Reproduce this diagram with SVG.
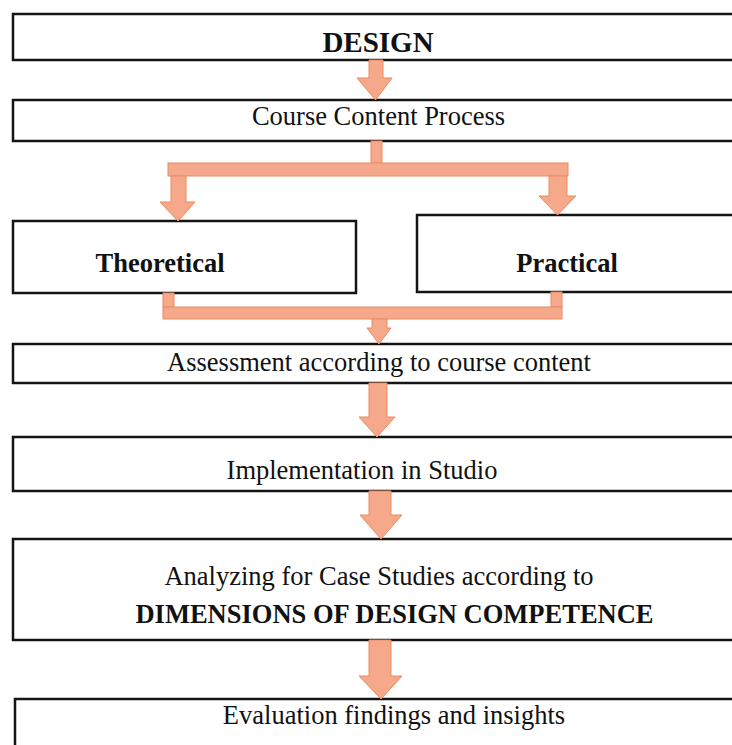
<svg xmlns="http://www.w3.org/2000/svg" width="732" height="745" viewBox="0 0 732 745">
<style>
.box{fill:#fff;stroke:#141414;stroke-width:2.5}
.arr{fill:#F6A98A;stroke:#EA8A60;stroke-width:1}
.t{font-family:"Liberation Serif","Times New Roman",serif;font-size:26.5px;fill:#111;text-anchor:middle}
.b{font-weight:bold}
</style>
<rect x="0" y="0" width="732" height="745" fill="#fff"/>
<g id="design"><rect class="box" x="13" y="14" width="730" height="46"/><text class="t b" x="378" y="52" style="font-size:29px">DESIGN</text></g>
<g id="course"><rect class="box" x="13" y="100" width="730" height="41"/><text class="t" x="378.5" y="125">Course Content Process</text></g>
<g id="theoretical"><rect class="box" x="13" y="221" width="343" height="72"/><text class="t b" x="160" y="272">Theoretical</text></g>
<g id="practical"><rect class="box" x="417" y="215" width="330" height="77"/><text class="t b" x="567" y="272">Practical</text></g>
<g id="assessment"><rect class="box" x="13" y="344" width="730" height="39"/><text class="t" x="379" y="371">Assessment according to course content</text></g>
<g id="implementation"><rect class="box" x="13" y="437" width="730" height="54"/><text class="t" x="362" y="479">Implementation in Studio</text></g>
<g id="analyzing"><rect class="box" x="13" y="539" width="730" height="101"/><text class="t" x="379" y="585">Analyzing for Case Studies according to</text><text class="t b" x="394.5" y="623">DIMENSIONS OF DESIGN COMPETENCE</text></g>
<g id="evaluation"><rect class="box" x="15" y="699" width="730" height="60"/><text class="t" x="394" y="724">Evaluation findings and insights</text></g>
<g id="connectors">
<polygon class="arr" points="369,60 383,60 383,78 392,78 375.5,100 357,78 369,78"/>
<rect class="arr" x="371" y="141" width="11" height="22"/>
<rect class="arr" x="168" y="163" width="400" height="13"/>
<polygon class="arr" points="171,176 186,176 186,202 195,202 178,221 160,202 171,202"/>
<polygon class="arr" points="549,176 567,176 567,196 576,196 557.5,215 539,196 549,196"/>
<rect class="arr" x="163" y="293" width="11" height="14"/>
<rect class="arr" x="551" y="292" width="11" height="15"/>
<rect class="arr" x="163" y="307" width="399" height="12"/>
<polygon class="arr" points="372,319 387,319 387,328 391,328 379,344 367,328 372,328"/>
<polygon class="arr" points="369,383 387,383 387,417 395,417 377,437 359,417 369,417"/>
<polygon class="arr" points="369,491 391,491 391,515 402,515 381,539 360,515 369,515"/>
<polygon class="arr" points="369,640 391,640 391,676 402,676 381,699 359,676 369,676"/>
</g>
</svg>
